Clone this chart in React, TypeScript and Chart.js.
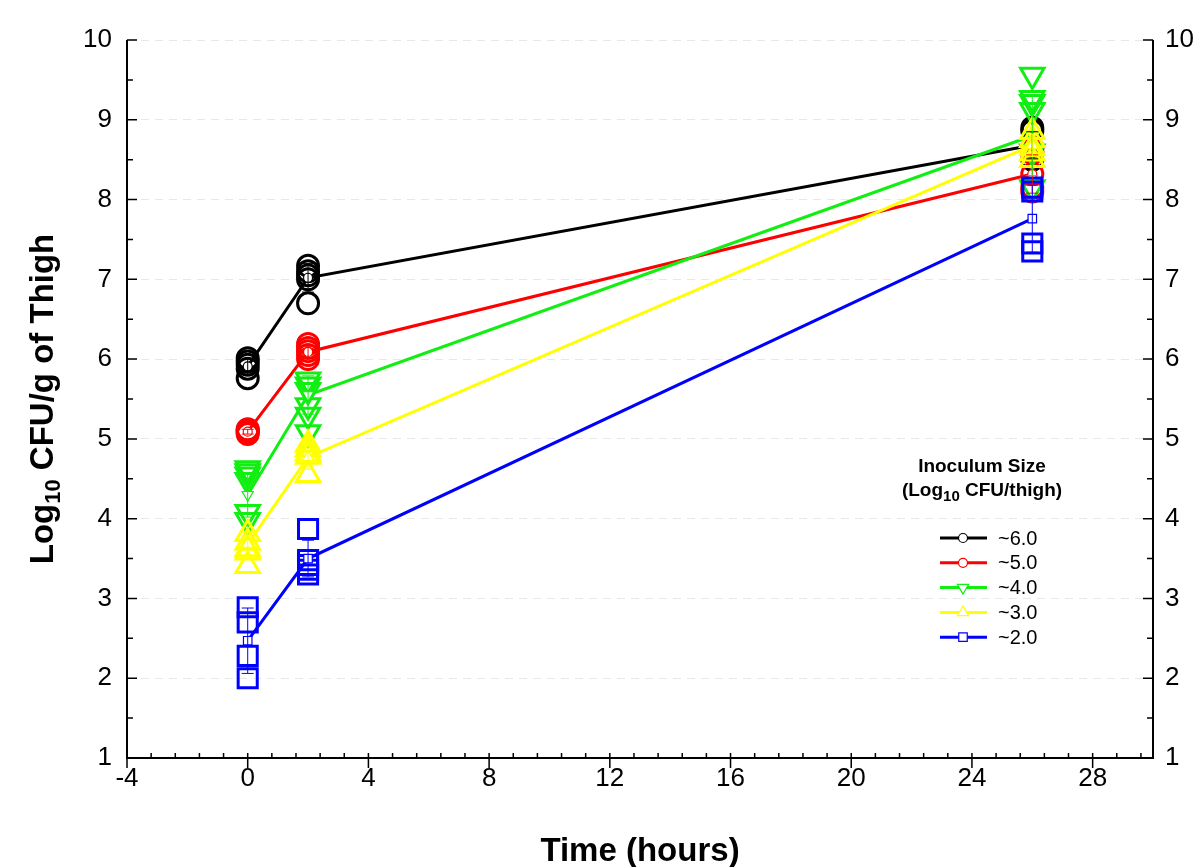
import React, { useEffect, useRef } from "react";
import { Chart, registerables } from "chart.js";

Chart.register(...registerables);

// ---------- data ----------
const timePoints = [0, 2, 26];
const xTickValues = [-4, 0, 4, 8, 12, 16, 20, 24, 28];
const yTickValues = [1, 2, 3, 4, 5, 6, 7, 8, 9, 10];
const seriesLabels = ["~6.0", "~5.0", "~4.0", "~3.0", "~2.0"];

// inoculum ~6.0
const obs6T0 = [6.01, 5.97, 5.93, 5.88, 5.76];
const obs6T2 = [7.17, 7.1, 7.05, 7.0, 6.7];
const obs6T26 = [8.9, 8.86, 8.65, 8.6, 8.5];
const mean6 = [5.91, 7.02, 8.68];
const sd6 = [0.1, 0.18, 0.17];

// inoculum ~5.0
const obs5T0 = [5.12, 5.11, 5.1, 5.08, 5.06];
const obs5T2 = [6.19, 6.14, 6.1, 6.05, 6.0];
const obs5T26 = [8.65, 8.58, 8.32, 8.15, 8.1];
const mean5 = [5.09, 6.09, 8.32];
const sd5 = [0.03, 0.07, 0.24];

// inoculum ~4.0
const obs4T0 = [4.63, 4.59, 4.55, 4.48, 4.08, 3.98];
const obs4T2 = [5.74, 5.68, 5.61, 5.42, 5.3, 5.08];
const obs4T26 = [9.56, 9.27, 9.22, 9.12, 8.6, 8.15];
const mean4 = [4.3, 5.55, 8.8];
const sd4 = [0.28, 0.24, 0.5];

// inoculum ~3.0
const obs3T0 = [3.81, 3.7, 3.62, 3.58, 3.41];
const obs3T2 = [4.93, 4.87, 4.82, 4.78, 4.55];
const obs3T26 = [8.85, 8.75, 8.65, 8.58, 8.5];
const mean3 = [3.68, 4.77, 8.68];
const sd3 = [0.15, 0.15, 0.14];

// inoculum ~2.0
const obs2T0 = [2.89, 2.7, 2.28, 2.0];
const obs2T2 = [3.87, 3.48, 3.42, 3.36, 3.3];
const obs2T26 = [8.15, 8.1, 7.45, 7.35];
const mean2 = [2.47, 3.5, 7.76];
const sd2 = [0.41, 0.23, 0.42];

const seriesObs = [
  [obs6T0, obs6T2, obs6T26],
  [obs5T0, obs5T2, obs5T26],
  [obs4T0, obs4T2, obs4T26],
  [obs3T0, obs3T2, obs3T26],
  [obs2T0, obs2T2, obs2T26],
];
const seriesMeans = [mean6, mean5, mean4, mean3, mean2];
const seriesSd = [sd6, sd5, sd4, sd3, sd2];

// ---------- styles ----------
const seriesColors = ["#000000", "#ff0000", "#11ee11", "#ffff00", "#0000ff"];
const seriesShapes = ["circle", "circle", "triangle", "triangle", "rect"];
const seriesRotations = [0, 0, 180, 0, 0];
const bigRadius: Record<string, number> = { circle: 10.5, triangle: 13.5, rect: 13.5 };
const smallRadius: Record<string, number> = { circle: 4.5, triangle: 6.5, rect: 6 };

const FONT = "'Liberation Sans', Arial, Helvetica, sans-serif";

function markerPath(ctx: CanvasRenderingContext2D, shape: string, rot: number, x: number, y: number, r: number) {
  ctx.beginPath();
  if (shape === "circle") {
    ctx.arc(x, y, r, 0, Math.PI * 2);
  } else if (shape === "rect") {
    const s = Math.SQRT1_2 * r;
    ctx.rect(x - s, y - s, 2 * s, 2 * s);
  } else {
    let rad = (rot * Math.PI) / 180;
    ctx.moveTo(x + Math.sin(rad) * r, y - Math.cos(rad) * r);
    rad += (2 * Math.PI) / 3;
    ctx.lineTo(x + Math.sin(rad) * r, y - Math.cos(rad) * r);
    rad += (2 * Math.PI) / 3;
    ctx.lineTo(x + Math.sin(rad) * r, y - Math.cos(rad) * r);
    ctx.closePath();
  }
}

type Part = { text: string; font: string; dy: number };

function drawParts(ctx: CanvasRenderingContext2D, parts: Part[], cx: number, baseY: number) {
  let total = 0;
  const widths = parts.map((p) => {
    ctx.font = p.font;
    const w = ctx.measureText(p.text).width;
    total += w;
    return w;
  });
  let x = cx - total / 2;
  ctx.textAlign = "left";
  ctx.textBaseline = "alphabetic";
  parts.forEach((p, i) => {
    ctx.font = p.font;
    ctx.fillText(p.text, x, baseY + p.dy);
    x += widths[i];
  });
}

const decorPlugin = {
  id: "decor",
  afterDatasetsDraw(chart: any) {
    const ctx: CanvasRenderingContext2D = chart.ctx;
    const xs = chart.scales.x;
    const ys = chart.scales.y;
    ctx.save();
    ctx.lineWidth = 1;
    seriesMeans.forEach((means, i) => {
      ctx.strokeStyle = seriesColors[i];
      means.forEach((m, j) => {
        const px = xs.getPixelForValue(timePoints[j]);
        const top = ys.getPixelForValue(m + seriesSd[i][j]);
        const bot = ys.getPixelForValue(m - seriesSd[i][j]);
        ctx.beginPath();
        ctx.moveTo(px, top);
        ctx.lineTo(px, bot);
        ctx.moveTo(px - 6, top);
        ctx.lineTo(px + 6, top);
        ctx.moveTo(px - 6, bot);
        ctx.lineTo(px + 6, bot);
        ctx.stroke();
      });
    });
    ctx.restore();
  },
  afterDraw(chart: any) {
    const ctx: CanvasRenderingContext2D = chart.ctx;
    const xs = chart.scales.x;
    const ys = chart.scales.y;
    const area = chart.chartArea;
    ctx.save();
    // axis frame (left, right, bottom)
    ctx.strokeStyle = "#000";
    ctx.lineWidth = 2;
    ctx.beginPath();
    ctx.moveTo(area.left, area.top);
    ctx.lineTo(area.left, area.bottom + 1);
    ctx.moveTo(area.right, area.top);
    ctx.lineTo(area.right, area.bottom + 1);
    ctx.moveTo(area.left - 1, area.bottom);
    ctx.lineTo(area.right + 1, area.bottom);
    ctx.stroke();

    // x ticks: majors outward, minors inward
    ctx.lineWidth = 1.5;
    ctx.beginPath();
    xTickValues.forEach((v) => {
      const px = xs.getPixelForValue(v);
      ctx.moveTo(px, area.bottom);
      ctx.lineTo(px, area.bottom + 10);
    });
    for (let k = 0; k <= 42; k++) {
      const v = xs.min + k * 0.8;
      const px = xs.getPixelForValue(v);
      ctx.moveTo(px, area.bottom);
      ctx.lineTo(px, area.bottom - 5);
    }
    // y ticks inward on both sides
    yTickValues.forEach((v) => {
      const py = ys.getPixelForValue(v);
      ctx.moveTo(area.left, py);
      ctx.lineTo(area.left + 10, py);
      ctx.moveTo(area.right, py);
      ctx.lineTo(area.right - 10, py);
      if (v < ys.max) {
        const pm = ys.getPixelForValue(v + 0.5);
        ctx.moveTo(area.left, pm);
        ctx.lineTo(area.left + 6, pm);
        ctx.moveTo(area.right, pm);
        ctx.lineTo(area.right - 6, pm);
      }
    });
    ctx.stroke();

    // axis titles
    ctx.fillStyle = "#000";
    drawParts(ctx, [{ text: "Time (hours)", font: `bold 33px ${FONT}`, dy: 0 }], (area.left + area.right) / 2, 861);
    ctx.save();
    ctx.translate(53, (area.top + area.bottom) / 2);
    ctx.rotate(-Math.PI / 2);
    drawParts(
      ctx,
      [
        { text: "Log", font: `bold 33px ${FONT}`, dy: 0 },
        { text: "10", font: `bold 22px ${FONT}`, dy: 7 },
        { text: " CFU/g of Thigh", font: `bold 33px ${FONT}`, dy: 0 },
      ],
      0,
      0
    );
    ctx.restore();

    // legend
    const lx = 982;
    drawParts(ctx, [{ text: "Inoculum Size", font: `bold 19px ${FONT}`, dy: 0 }], lx, 472);
    drawParts(
      ctx,
      [
        { text: "(Log", font: `bold 19px ${FONT}`, dy: 0 },
        { text: "10", font: `bold 15px ${FONT}`, dy: 5 },
        { text: " CFU/thigh)", font: `bold 19px ${FONT}`, dy: 0 },
      ],
      lx,
      496
    );
    seriesLabels.forEach((lab, i) => {
      const y = 538 + i * 24.8;
      ctx.strokeStyle = seriesColors[i];
      ctx.lineWidth = 3;
      ctx.beginPath();
      ctx.moveTo(940, y);
      ctx.lineTo(987, y);
      ctx.stroke();
      ctx.lineWidth = 1.2;
      ctx.fillStyle = "#fff";
      markerPath(ctx, seriesShapes[i], seriesRotations[i], 963, y, smallRadius[seriesShapes[i]]);
      ctx.fill();
      ctx.stroke();
      ctx.fillStyle = "#000";
      ctx.font = `20px ${FONT}`;
      ctx.textAlign = "left";
      ctx.textBaseline = "middle";
      ctx.fillText(lab, 998, y + 1);
    });
    ctx.restore();
  },
};

export default function App() {
  const canvasRef = useRef<HTMLCanvasElement | null>(null);

  useEffect(() => {
    const canvas = canvasRef.current;
    if (!canvas) return;

    const datasets: any[] = [];
    seriesObs.forEach((groups, i) => {
      const shape = seriesShapes[i];
      const pts: { x: number; y: number }[] = [];
      groups.forEach((vals, j) => vals.forEach((v) => pts.push({ x: timePoints[j], y: v })));
      datasets.push({
        type: "scatter",
        label: seriesLabels[i] + " obs",
        data: pts,
        showLine: false,
        pointStyle: shape,
        rotation: seriesRotations[i],
        pointRadius: bigRadius[shape],
        borderColor: seriesColors[i],
        backgroundColor: "rgba(0,0,0,0)",
        pointBorderWidth: 3,
        order: 100 - i * 10,
        xAxisID: "x",
        yAxisID: "y",
      });
      datasets.push({
        type: "line",
        label: seriesLabels[i],
        data: seriesMeans[i].map((m, j) => ({ x: timePoints[j], y: m })),
        borderColor: seriesColors[i],
        borderWidth: 3,
        tension: 0,
        fill: false,
        pointStyle: shape,
        rotation: seriesRotations[i],
        pointRadius: smallRadius[shape],
        pointBorderWidth: 1.2,
        pointBorderColor: seriesColors[i],
        pointBackgroundColor: "#ffffff",
        order: 95 - i * 10,
        xAxisID: "x",
        yAxisID: "y",
      });
    });

    const tickFont = { family: FONT, size: 26 };

    const chart = new Chart(canvas, {
      type: "line",
      data: { datasets },
      options: {
        responsive: false,
        animation: false,
        devicePixelRatio: 1,
        events: [],
        layout: { padding: { top: 40, left: 0, right: 0, bottom: 0 } },
        plugins: { legend: { display: false }, tooltip: { enabled: false } },
        scales: {
          x: {
            type: "linear",
            position: "bottom",
            min: -4,
            max: 30,
            afterBuildTicks: (s: any) => {
              s.ticks = xTickValues.map((v) => ({ value: v }));
            },
            afterFit: (s: any) => {
              s.height = 109;
            },
            grid: { display: false, drawTicks: false },
            border: { display: false },
            ticks: {
              color: "#000",
              font: tickFont,
              padding: 5,
              maxRotation: 0,
              autoSkip: false,
              callback: (v: any) => String(v),
            },
          },
          y: {
            type: "linear",
            position: "left",
            min: 1,
            max: 10,
            afterBuildTicks: (s: any) => {
              s.ticks = yTickValues.map((v) => ({ value: v }));
            },
            afterFit: (s: any) => {
              s.width = 127;
            },
            grid: { display: true, drawTicks: false, color: "#e8e8e8", lineWidth: 1 },
            border: { display: false, dash: [8, 6] },
            ticks: { color: "#000", font: tickFont, padding: 15, autoSkip: false, callback: (v: any) => String(v) },
          },
          y2: {
            type: "linear",
            position: "right",
            min: 1,
            max: 10,
            afterBuildTicks: (s: any) => {
              s.ticks = yTickValues.map((v) => ({ value: v }));
            },
            afterFit: (s: any) => {
              s.width = 47;
            },
            grid: { display: false, drawTicks: false },
            border: { display: false },
            ticks: { color: "#000", font: tickFont, padding: 12, autoSkip: false, callback: (v: any) => String(v) },
          },
        },
      } as any,
      plugins: [decorPlugin],
    });

    return () => chart.destroy();
  }, []);

  return (
    <div style={{ position: "absolute", left: 0, top: 0, width: 1200, height: 867, background: "#fff" }}>
      <canvas ref={canvasRef} width={1200} height={867} style={{ display: "block", width: 1200, height: 867 }} />
    </div>
  );
}
